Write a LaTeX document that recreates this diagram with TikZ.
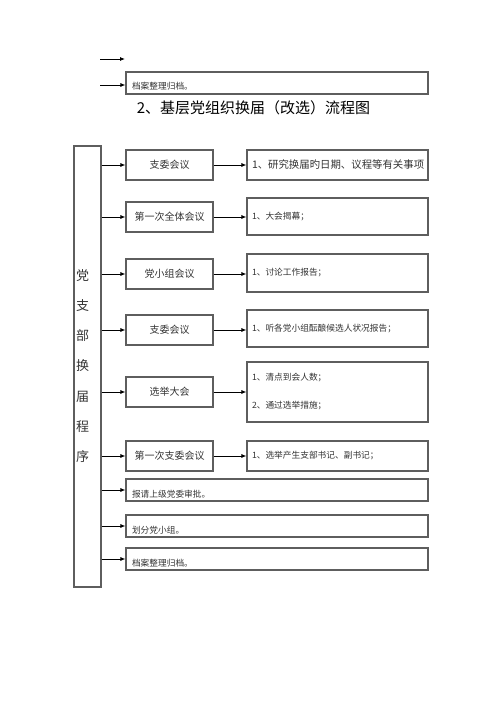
\documentclass[tikz,border=0pt]{standalone}
\usepackage{fontspec}
\setmainfont{Noto Sans CJK SC}
\usetikzlibrary{arrows.meta,calc}
\definecolor{boxgray}{HTML}{5E5E5E}
\definecolor{textgray}{HTML}{333333}
\begin{document}
\begin{tikzpicture}[x=1pt,y=-1pt,
  box/.style={draw=boxgray, line width=1.1pt, rectangle, text=textgray},
  wide/.style={box, text width=290pt, inner xsep=6pt, inner ysep=0pt, minimum height=22pt, align=left, font=\fontsize{8.7}{10}\selectfont},
  mid/.style={box, minimum width=87pt, minimum height=30pt, inner sep=0pt, font=\fontsize{10}{12}\selectfont},
  rbox/.style={box, text width=171pt, inner xsep=5pt, inner ysep=0pt, align=left, font=\fontsize{8.7}{11}\selectfont},
  arr/.style={-{Latex[length=5pt,width=4pt]}, line width=0.8pt, black}]
\useasboundingbox (0,0) rectangle (500,706);

% top fragment
\coordinate (t1a) at (100,59);
\coordinate (t1b) at (125,59);
\draw[arr] (t1a) -- (t1b);
\node[wide] (top) at (277,83) {\raisebox{-7pt}[0pt][0pt]{档案整理归档。}};
\coordinate (t2a) at (100,85);
\draw[arr] (t2a) -- (t2a -| top.west);

% title
\node[font=\fontsize{15}{18}\selectfont, text=black] (title) at (253.5,108) {2、基层党组织换届（改选）流程图};

% left column
\node[box, minimum width=27pt, minimum height=441pt, inner sep=0pt] (lb) at (87.5,366.5) {};
\node[font=\fontsize{13}{30.3}\selectfont, align=center, text=textgray] (lbt) at (82.5,366) {党\\支\\部\\换\\届\\程\\序};

% middle boxes
\node[mid] (m1) at (169.5,165) {支委会议};
\node[mid] (m2) at (169.5,217) {第一次全体会议};
\node[mid] (m3) at (169.5,274) {党小组会议};
\node[mid] (m4) at (169.5,330) {支委会议};
\node[mid] (m5) at (169.5,392) {选举大会};
\node[mid] (m6) at (169.5,456) {第一次支委会议};

% right boxes
\node[rbox, minimum height=30pt, font=\fontsize{10.4}{12}\selectfont] (r1) at (337.5,165) {1、研究换届旳日期、议程等有关事项};
\node[rbox, minimum height=37pt] (r2) at (337.5,216.5) {1、大会揭幕；};
\node[rbox, minimum height=38pt] (r3) at (337.5,273) {1、讨论工作报告；};
\node[rbox, minimum height=37pt] (r4) at (337.5,328.5) {1、听各党小组酝酿候选人状况报告；};
\node[rbox, minimum height=60pt] (r5) at (337.5,392) {1、清点到会人数；\\[17pt]2、通过选举措施；};
\node[rbox, minimum height=30pt] (r6) at (337.5,456) {1、选举产生支部书记、副书记；};

% bottom boxes
\node[wide] (b1) at (277,490) {\raisebox{-7pt}[0pt][0pt]{报请上级党委审批。}};
\node[wide] (b2) at (277,526) {\raisebox{-7pt}[0pt][0pt]{划分党小组。}};
\node[wide] (b3) at (277,559) {\raisebox{-7pt}[0pt][0pt]{档案整理归档。}};

% connectors
\foreach \i in {1,...,6} {
  \draw[arr] (lb.east |- m\i.west) -- (m\i.west);
  \draw[arr] (m\i.east) -- (m\i.east -| r\i.west);
}
\foreach \b in {b1,b2,b3} {
  \draw[arr] (lb.east |- \b.west) -- (\b.west);
}
\end{tikzpicture}
\end{document}
